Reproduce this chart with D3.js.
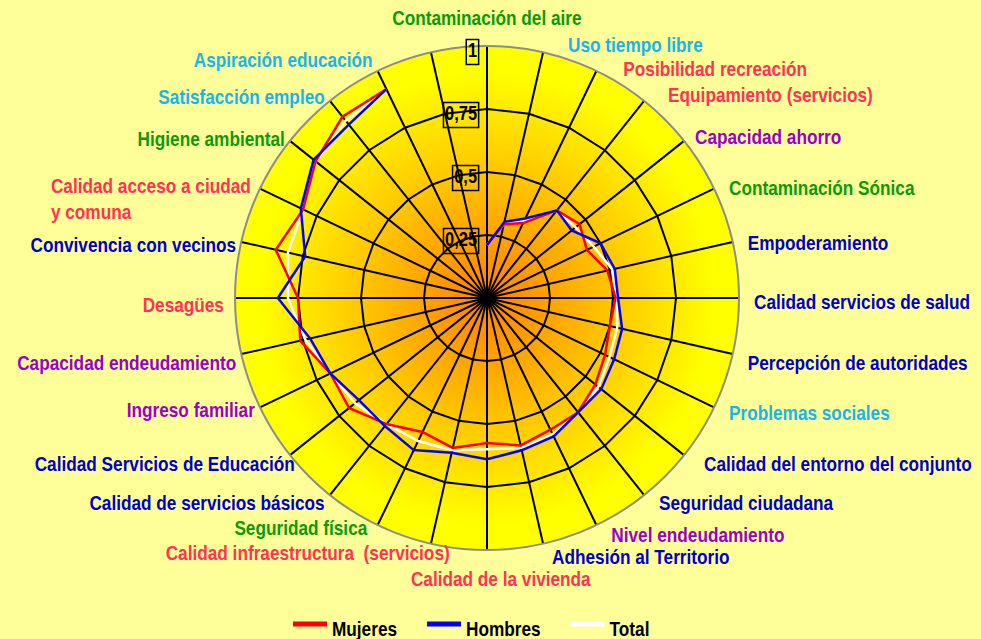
<!DOCTYPE html>
<html>
<head>
<meta charset="utf-8">
<script src="https://cdn.jsdelivr.net/npm/d3@7"></script>
<style>
  html, body { margin: 0; padding: 0; background: #ffff99; }
  svg { display: block; font-family: "Liberation Sans", Arial, sans-serif; font-weight: bold; }
  text { white-space: pre; }
</style>
</head>
<body>
<svg id="chart" width="981" height="639"></svg>
<script>
// Radar: quality-of-life indicators by sex. Last axis has no label and no data.
const categories = [
  "Contaminación del aire", "Uso tiempo libre", "Posibilidad recreación", "Equipamiento (servicios)",
  "Capacidad ahorro", "Contaminación Sónica", "Empoderamiento", "Calidad servicios de salud",
  "Percepción de autoridades", "Problemas sociales", "Calidad del entorno del conjunto", "Seguridad ciudadana",
  "Nivel endeudamiento", "Adhesión al Territorio", "Calidad de la vivienda", "Calidad infraestructura  (servicios)",
  "Seguridad física", "Calidad de servicios básicos", "Calidad Servicios de Educación", "Ingreso familiar",
  "Capacidad endeudamiento", "Desagües", "Convivencia con vecinos", "Calidad acceso a ciudad\ny comuna",
  "Higiene ambiental", "Satisfacción empleo", "Aspiración educación", ""
];
// label colour group per category
const groups = [
  "g", "c", "r", "r", "p", "g", "b", "b", "b", "c", "b", "b", "p", "b",
  "r", "r", "g", "b", "b", "p", "p", "r", "b", "r", "g", "c", "c", "b"
];
const mujeres = [0.21, 0.30, 0.33, 0.445, 0.47, 0.44, 0.49, 0.51, 0.50, 0.52, 0.55, 0.58, 0.58, 0.60,
  0.575, 0.61, 0.59, 0.64, 0.70, 0.69, 0.76, 0.75, 0.86, 0.81, 0.87, 0.92, 0.92, null];
const hombres = [0.21, 0.31, 0.35, 0.445, 0.43, 0.50, 0.52, 0.52, 0.55, 0.56, 0.58, 0.58, 0.61, 0.62,
  0.64, 0.63, 0.67, 0.65, 0.65, 0.69, 0.72, 0.83, 0.74, 0.82, 0.88, 0.88, 0.92, null];
const total = [0.21, 0.30, 0.34, 0.445, 0.45, 0.47, 0.51, 0.515, 0.53, 0.54, 0.565, 0.58, 0.60, 0.61,
  0.60, 0.62, 0.63, 0.64, 0.67, 0.69, 0.74, 0.79, 0.81, 0.81, 0.87, 0.90, 0.92, null];
const ticks = [0.25, 0.5, 0.75, 1];
const tickLabels = ["0,25", "0,5", "0,75", "1"];

const series = [
  { name: "Mujeres", values: mujeres, color: "#ff0000" },
  { name: "Hombres", values: hombres, color: "#0000ff" },
  { name: "Total", values: total, color: "#ffffff" },
];
const groupColor = { g: "#0a9a0a", c: "#1ab4e8", r: "#ff3355", p: "#9900cc", b: "#0000cc" };
// small per-label nudges (Excel placement is not regular)
const nudge = { 1: 10, 2: 12, 3: 9, 4: -4, 10: 5, 13: -6, 14: 14, 15: 24, 16: -5, 18: 10, 21: -6, 23: -4 };
const nudgeY = { 1: -2, 2: 3, 3: -2, 4: -2, 8: 3, 9: -2, 11: -3, 12: -2, 13: 1, 15: -3, 16: -9,
  17: -3, 19: -5, 20: 3, 21: 3, 22: 2, 23: 11, 26: -6 };
const SX = 0.82; // narrow bold look

const svg = d3.select("#chart");
const W = 981, H = 639;
const cx = 487, cy = 298, R = 252;
const n = categories.length;
const step = 2 * Math.PI / n;

const r = d3.scaleLinear().domain([0, 1]).range([0, R]);

const defs = svg.append("defs");
const grad = defs.append("radialGradient").attr("id", "plotbg")
  .attr("cx", "50%").attr("cy", "50%").attr("r", "50%");
grad.append("stop").attr("offset", "0%").attr("stop-color", "#ff8000");
grad.append("stop").attr("offset", "90%").attr("stop-color", "#ffff00");
grad.append("stop").attr("offset", "100%").attr("stop-color", "#ffff00");

svg.append("rect").attr("width", W).attr("height", H).attr("fill", "#ffff99");

const plot = svg.append("g").attr("transform", `translate(${cx},${cy})`);

plot.append("circle").attr("r", R).attr("fill", "url(#plotbg)");

// rings
const ring = d3.lineRadial().angle((d, i) => i * step).radius(d => r(d)).curve(d3.curveLinearClosed);
plot.selectAll("path.ring").data(ticks.filter(t => t < 1)).join("path")
  .attr("class", "ring")
  .attr("d", t => ring(d3.range(n).map(() => t)))
  .attr("fill", "none").attr("stroke", "#000").attr("stroke-width", 2);

// spokes
plot.selectAll("line.spoke").data(d3.range(n)).join("line")
  .attr("class", "spoke")
  .attr("x1", 0).attr("y1", 0)
  .attr("x2", i => r(1) * Math.sin(i * step))
  .attr("y2", i => -r(1) * Math.cos(i * step))
  .attr("stroke", "#000").attr("stroke-width", 2);

plot.append("circle").attr("r", R).attr("fill", "none")
  .attr("stroke", "#8c8c8c").attr("stroke-width", 2);

// series, Total underneath
const line = d3.lineRadial()
  .defined(d => d != null)
  .angle((d, i) => i * step)
  .radius(d => r(d));
const drawOrder = [series[2], series[0], series[1]];
plot.selectAll("path.series").data(drawOrder).join("path")
  .attr("class", "series")
  .attr("d", s => line(s.values))
  .attr("fill", "none").attr("stroke", s => s.color)
  .attr("stroke-width", 2.5).attr("stroke-linejoin", "miter");

// value axis labels in boxes
const tg = plot.selectAll("g.tick").data(ticks).join("g").attr("class", "tick")
  .attr("transform", t => `translate(-10,${-r(t) + 4}) scale(${SX},1)`);
tg.append("text")
  .attr("text-anchor", "end").attr("dominant-baseline", "central")
  .style("font-size", "20px").attr("fill", "#000")
  .text((t, i) => tickLabels[i]);
tg.each(function () {
  const g = d3.select(this);
  const b = g.select("text").node().getBBox();
  g.insert("rect", "text")
    .attr("x", b.x - 2).attr("y", b.y + 1)
    .attr("width", b.width + 4).attr("height", b.height + 2)
    .attr("fill", "none").attr("stroke", "#000").attr("stroke-width", 1.5)
    .attr("vector-effect", "non-scaling-stroke");
});

// category labels
const labels = svg.append("g").selectAll("text.cat").data(categories).join("text")
  .attr("class", "cat")
  .style("font-size", "21px")
  .attr("fill", (d, i) => groupColor[groups[i]]);
labels.each(function (d) {
  const t = d3.select(this);
  d.split("\n").forEach((s, k) => {
    t.append("tspan").attr("x", 0).attr("dy", k === 0 ? 0 : 26).text(s);
  });
});
labels.attr("transform", function (d, i) {
  const b = this.getBBox();
  const w = b.width * SX;
  const a = i * step, s = Math.sin(a), c = Math.cos(a);
  const px = cx + R * s, py = cy - R * c;
  const dx = nudge[i] || 0, dy = nudgeY[i] || 0;
  let left, midY;
  if (Math.abs(s) < 0.05) {
    left = px + dx - w / 2;
    midY = c > 0 ? py - 29 : py + 28;
  } else if (s > 0) {
    left = px + 15 + dx;
    midY = py - 9 * c + 3;
  } else {
    left = px - 5 + dx - w;
    midY = py - 9 * c + 3;
  }
  midY += dy;
  return `translate(${left - b.x * SX},${midY - (b.y + b.height / 2)}) scale(${SX},1)`;
});

// legend
const legend = svg.append("g").attr("class", "legend");
let lx = 293;
series.forEach(s => {
  legend.append("line")
    .attr("x1", lx).attr("x2", lx + 34).attr("y1", 624).attr("y2", 624)
    .attr("stroke", s.color).attr("stroke-width", 5);
  const txt = legend.append("text")
    .attr("transform", `translate(${lx + 39},636) scale(${SX},1)`)
    .style("font-size", "21px").attr("fill", "#000")
    .text(s.name);
  lx += 39 + txt.node().getComputedTextLength() * SX + 30;
});
</script>
</body>
</html>
